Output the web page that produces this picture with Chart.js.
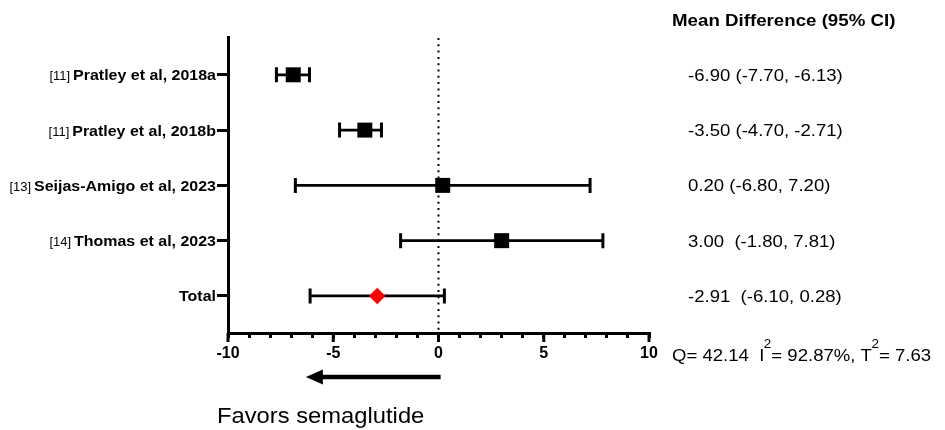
<!DOCTYPE html>
<html><head><meta charset="utf-8">
<script src="https://cdn.jsdelivr.net/npm/chart.js@4/dist/chart.umd.min.js"></script>
<style>html,body{margin:0;padding:0;background:#fff}#wrap{width:945px;height:430px}</style>
</head><body><div id="wrap"><canvas id="c" width="945" height="430"></canvas></div>
<script>
// ---- data ----
const studies = ['Pratley et al, 2018a', 'Pratley et al, 2018b', 'Seijas-Amigo et al, 2023', 'Thomas et al, 2023', 'Total'];
const refs = ['[11]', '[11]', '[13]', '[14]', ''];
const means = [-6.90, -3.50, 0.20, 3.00, -2.91];
const lower = [-7.70, -4.70, -6.80, -1.80, -6.10];
const upper = [-6.13, -2.71, 7.20, 7.81, 0.28];
const ciText = ['-6.90 (-7.70, -6.13)', '-3.50 (-4.70, -2.71)', '0.20 (-6.80, 7.20)', '3.00  (-1.80, 7.81)', '-2.91  (-6.10, 0.28)'];
const xMajorTicks = [-10, -5, 0, 5, 10];
const headerText = 'Mean Difference (95% CI)';
const hetParts = ['Q= 42.14  I', '2', '= 92.87%, Τ', '2', '= 7.63'];
const hetSup = [false, true, false, true, false];
const favorsText = 'Favors semaglutide';
const arrowFrom = 0.1, arrowTo = -6.3;

// ---- drawing ----
const FONT = "'Liberation Sans', Arial, Helvetica, sans-serif";
const studyIdx = studies.map((_, i) => i).filter(i => studies[i] !== 'Total');
const totalIdx = studies.indexOf('Total');

function sText(ctx, txt, x, y, font, sx, align) {
  ctx.save();
  ctx.font = font; ctx.textAlign = align || 'left'; ctx.textBaseline = 'alphabetic'; ctx.fillStyle = '#000';
  ctx.translate(x, y); ctx.scale(sx, 1); ctx.fillText(txt, 0, 0);
  const w = ctx.measureText(txt).width * sx;
  ctx.restore();
  return w;
}

const forestPlugin = {
  id: 'forest',
  beforeDatasetsDraw(chart) {
    const ctx = chart.ctx, xs = chart.scales.x, ys = chart.scales.y, ca = chart.chartArea;
    ctx.save();
    // dotted null line
    ctx.strokeStyle = '#000'; ctx.lineWidth = 2; ctx.setLineDash([2, 4.3]);
    const x0 = xs.getPixelForValue(0);
    ctx.beginPath(); ctx.moveTo(x0, ca.top + 1); ctx.lineTo(x0, ca.bottom); ctx.stroke();
    ctx.setLineDash([]);
    // error bars
    studies.forEach((s, i) => {
      const y = ys.getPixelForValue(i + 1);
      const xl = xs.getPixelForValue(lower[i]), xu = xs.getPixelForValue(upper[i]);
      ctx.lineWidth = 2.7;
      ctx.beginPath(); ctx.moveTo(xl, y); ctx.lineTo(xu, y); ctx.stroke();
      ctx.lineWidth = 3;
      ctx.beginPath();
      ctx.moveTo(xl, y - 7.5); ctx.lineTo(xl, y + 7.5);
      ctx.moveTo(xu, y - 7.5); ctx.lineTo(xu, y + 7.5);
      ctx.stroke();
    });
    ctx.restore();
  },
  afterDraw(chart) {
    const ctx = chart.ctx, xs = chart.scales.x, ys = chart.scales.y, ca = chart.chartArea;
    ctx.save();
    // longer major ticks
    ctx.strokeStyle = '#000'; ctx.lineWidth = 3;
    xMajorTicks.forEach(v => {
      const px = xs.getPixelForValue(v);
      ctx.beginPath(); ctx.moveTo(px, ca.bottom); ctx.lineTo(px, ca.bottom + 9); ctx.stroke();
    });
    // category labels
    studies.forEach((s, i) => {
      const y = ys.getPixelForValue(i + 1);
      const w = sText(ctx, s, ca.left - 12, y + 5.5, 'bold 15.5px ' + FONT, 1.03, 'right');
      if (refs[i]) sText(ctx, refs[i], ca.left - 12 - w - 3, y + 5.5, '12px ' + FONT, 1.08, 'right');
      // right column text
      sText(ctx, ciText[i], 688, y + 6, '16.3px ' + FONT, 1.14, 'left');
    });
    // header
    sText(ctx, headerText, 672, 26, 'bold 17px ' + FONT, 1.1, 'left');
    // heterogeneity
    let hx = 672;
    hetParts.forEach((p, k) => {
      if (hetSup[k]) hx += sText(ctx, p, hx - 0.5, 347.5, '13.5px ' + FONT, 1.0, 'left') - 0.5;
      else hx += sText(ctx, p, hx, 360.5, '16.3px ' + FONT, 1.14, 'left');
    });
    // arrow
    const ay = 377;
    const xa = xs.getPixelForValue(arrowFrom), xb = xs.getPixelForValue(arrowTo);
    ctx.fillStyle = '#000';
    ctx.lineWidth = 4.5; ctx.lineCap = 'butt';
    ctx.beginPath(); ctx.moveTo(xa, ay); ctx.lineTo(xb + 14, ay); ctx.stroke();
    ctx.beginPath(); ctx.moveTo(xb, ay); ctx.lineTo(xb + 17, ay - 7.5); ctx.lineTo(xb + 17, ay + 7.5); ctx.closePath(); ctx.fill();
    // favors text
    sText(ctx, favorsText, 217, 423, '22px ' + FONT, 1.08, 'left');
    ctx.restore();
  }
};

new Chart(document.getElementById('c').getContext('2d'), {
  type: 'scatter',
  data: {
    datasets: [
      { data: studyIdx.map(i => ({ x: means[i], y: i + 1 })), pointStyle: 'rect', pointRadius: 10.6, pointHoverRadius: 10.6, backgroundColor: '#000', borderWidth: 0 },
      { data: [{ x: means[totalIdx], y: totalIdx + 1 }], pointStyle: 'rectRot', pointRadius: 8.3, pointHoverRadius: 8.3, backgroundColor: '#ff0000', borderWidth: 0 }
    ]
  },
  options: {
    responsive: false, animation: false, events: [],
    layout: { padding: { left: 218, right: 296, top: 37, bottom: 0 } },
    plugins: { legend: { display: false }, tooltip: { enabled: false } },
    scales: {
      x: {
        type: 'linear', min: -10, max: 10,
        ticks: { stepSize: 1, autoSkip: false, maxRotation: 0, padding: 6, color: '#000',
          font: { family: FONT, size: 16, weight: 'bold' },
          callback: v => xMajorTicks.includes(v) ? String(v) : '' },
        grid: { drawOnChartArea: false, drawTicks: true, tickLength: 5, lineWidth: 3, color: '#000' },
        border: { display: true, color: '#000', width: 3 },
        afterFit: s => { s.height = 97; }
      },
      y: {
        type: 'linear', reverse: true, min: 0.316, max: 5.67,
        afterBuildTicks: s => { s.ticks = studies.map((_, i) => ({ value: i + 1 })); },
        ticks: { display: false },
        grid: { drawOnChartArea: false, drawTicks: true, tickLength: 11, lineWidth: 3, color: '#000' },
        border: { display: true, color: '#000', width: 3 },
        afterFit: s => { s.width = 10; }
      }
    }
  },
  plugins: [forestPlugin]
});
</script>
</body></html>
